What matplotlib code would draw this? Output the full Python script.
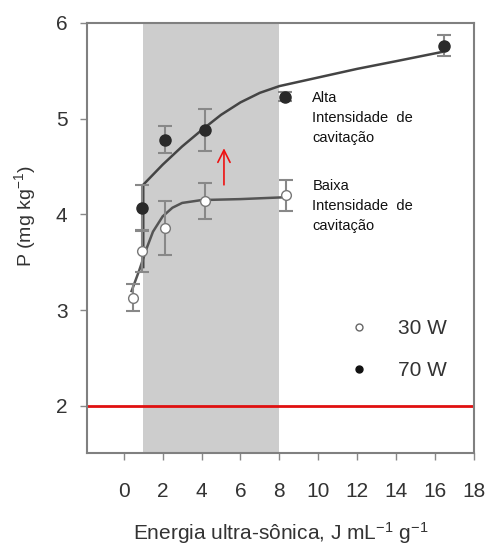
import matplotlib
matplotlib.use('Agg')
import matplotlib.pyplot as plt
from matplotlib.lines import Line2D

plt.rcParams['font.family'] = ['Liberation Sans', 'DejaVu Sans']
plt.rcParams['mathtext.default'] = 'regular'

# 30 W (open circles)
x30 = [0.45, 0.95, 2.1, 4.15, 8.35]
y30 = [3.13, 3.62, 3.86, 4.14, 4.20]
e30 = [0.14, 0.22, 0.28, 0.19, 0.16]

# 70 W (filled circles)
x70 = [0.95, 2.1, 4.15, 8.3, 16.45]
y70 = [4.07, 4.78, 4.88, 5.23, 5.76]
e70 = [0.24, 0.14, 0.22, 0.05, 0.11]

# fitted curves
fit70_x = [1.0, 1.0, 2.0, 3.0, 4.0, 5.0, 6.0, 7.0, 8.0, 10.0, 12.0, 14.0, 16.45]
fit70_y = [3.45, 4.31, 4.52, 4.71, 4.88, 5.04, 5.17, 5.27, 5.34, 5.43, 5.52, 5.60, 5.70]
fit30_x = [0.4, 0.8, 1.2, 1.5, 2.0, 2.5, 3.0, 4.0, 6.0, 8.35]
fit30_y = [3.20, 3.42, 3.66, 3.82, 3.98, 4.07, 4.12, 4.15, 4.16, 4.18]

xticks = [0, 2, 4, 6, 8, 10, 12, 14, 16, 18]
yticks = [2, 3, 4, 5, 6]

fig = plt.figure(figsize=(4.88, 5.45), dpi=100)
ax = fig.add_axes([0.178, 0.169, 0.793, 0.789])

ax.axvspan(1, 8, color='#cdcdcd', zorder=0, lw=0)
ax.axhline(2, color='#e01010', lw=2, zorder=2)

ax.plot(fit70_x, fit70_y, color='#444444', lw=1.8, zorder=3)
ax.plot(fit30_x, fit30_y, color='#555555', lw=1.8, zorder=3)

ax.errorbar(x30, y30, yerr=e30, fmt='o', ms=7, mfc='white', mec='#777777',
            ecolor='#888888', elinewidth=1.5, capsize=5, capthick=1.5, zorder=4)
ax.errorbar(x70, y70, yerr=e70, fmt='o', ms=8, mfc='#2a2a2a', mec='#2a2a2a',
            ecolor='#888888', elinewidth=1.5, capsize=5, capthick=1.5, zorder=5)

ax.annotate('', xy=(5.15, 4.72), xytext=(5.15, 4.28),
            arrowprops=dict(arrowstyle='->', color='#ee1111', lw=1.2,
                            mutation_scale=22))

ax.text(9.7, 5.29, 'Alta\nIntensidade  de\ncavitação', fontsize=10.5,
        va='top', ha='left', linespacing=1.55, color='#111111')
ax.text(9.7, 4.37, 'Baixa\nIntensidade  de\ncavitação', fontsize=10.5,
        va='top', ha='left', linespacing=1.55, color='#111111')

handles = [
    Line2D([], [], ls='none', marker='o', ms=5, mfc='white', mec='#666666'),
    Line2D([], [], ls='none', marker='o', ms=5, mfc='#111111', mec='#111111'),
]
ax.legend(handles, ['30 W', '70 W'], loc='upper left',
          bbox_to_anchor=(0.6, 0.355), frameon=False, fontsize=15,
          labelspacing=1.1, handletextpad=0.9, labelcolor='#333333')

ax.set_xlim(-1.9, 18)
ax.set_ylim(1.51, 6)
ax.set_xticks(xticks)
ax.set_yticks(yticks)
ax.tick_params(axis='both', direction='out', length=5, width=1,
               colors='#888888', labelcolor='#333333', labelsize=15, pad=9)
ax.tick_params(axis='x', pad=16)
for sp in ax.spines.values():
    sp.set_color('#808080')
    sp.set_linewidth(1.5)

ax.set_xlabel('Energia ultra-sônica, J mL$^{-1}$ g$^{-1}$', fontsize=15,
              color='#333333', labelpad=14)
ax.set_ylabel('P (mg kg$^{-1}$)', fontsize=14, color='#333333')
ax.yaxis.set_label_coords(-0.125, 0.55)

fig.savefig('out.png', dpi=100)
